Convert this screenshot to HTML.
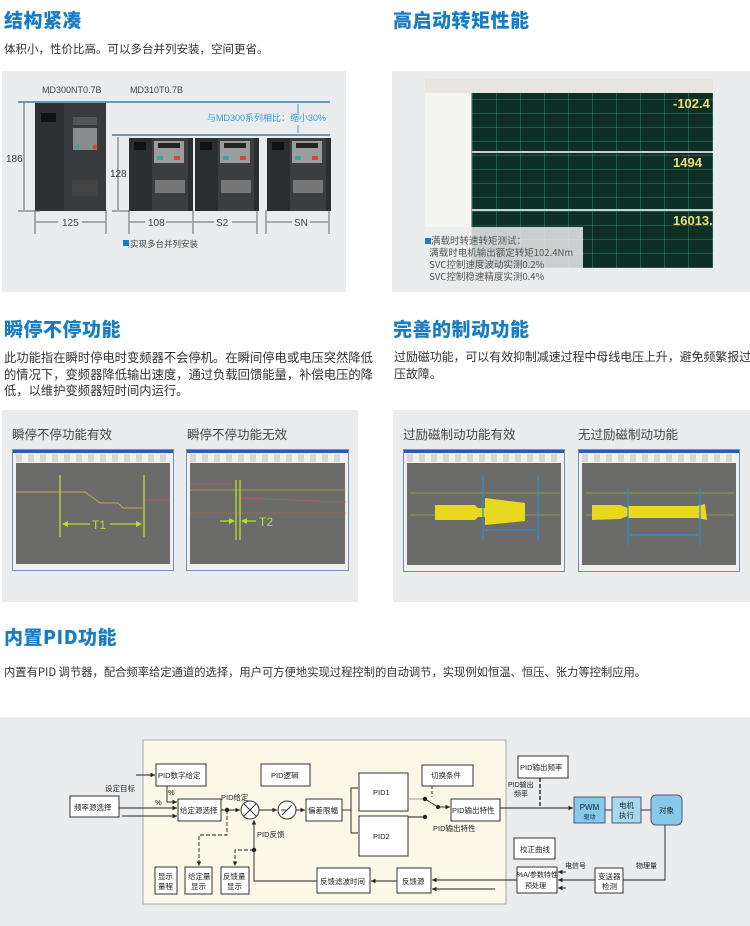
<!DOCTYPE html>
<html><head><meta charset="utf-8">
<style>
*{margin:0;padding:0;box-sizing:border-box}
body{width:750px;height:926px;background:#fff;position:relative;overflow:hidden;font-family:"Liberation Sans","Noto Sans CJK SC",sans-serif;color:#333}
.a{position:absolute}
.t{position:absolute;font-weight:900;font-size:19px;color:#1a7cc2;letter-spacing:0.5px;font-family:"Noto Sans CJK SC",sans-serif;line-height:22px}
.p{position:absolute;font-size:12px;color:#333;line-height:16.5px;font-family:"Noto Sans CJK SC",sans-serif;white-space:nowrap}
.panel{position:absolute;background:#ebeced}
.lbl{position:absolute;font-size:12.5px;color:#444;font-family:"Noto Sans CJK SC",sans-serif}
.win{position:absolute;background:#f0f0ee;border:1px solid #6f8fb8}
.win .tb{position:absolute;left:0;top:0;right:0;height:3px;background:#2a5fb0}
.win .g{position:absolute;left:3px;right:3px;top:13px;bottom:6px;background:#6b6c6a}
.win .s{position:absolute;left:3px;right:3px;top:4px;height:8px;background:repeating-linear-gradient(90deg,#bbb 0 6px,#f0f0ee 6px 12px);opacity:.5}
svg text{font-family:"Liberation Sans","Noto Sans CJK SC",sans-serif}
</style></head><body>

<!-- Section 1 -->
<div class="t" style="left:4px;top:9px">结构紧凑</div>
<div class="p" style="left:4px;top:41px;font-size:11.5px">体积小，性价比高。可以多台并列安装，空间更省。</div>
<div class="panel" style="left:2px;top:71px;width:344px;height:221px"></div>
<svg class="a" style="left:0;top:0" width="350" height="300">
 <text x="42" y="93" font-size="9" fill="#444">MD300NT0.7B</text>
 <text x="130" y="93" font-size="9" fill="#444">MD310T0.7B</text>
 <line x1="18" y1="102" x2="330" y2="102" stroke="#3d7f9e" stroke-width="1.5"/>
 <line x1="112" y1="135" x2="330" y2="135" stroke="#3d7f9e" stroke-width="1.5"/>
 <text x="207" y="121" font-size="9" fill="#3a9ad8">与MD300系列相比：缩小30%</text>
 <line x1="298" y1="104" x2="298" y2="114" stroke="#3a9ad8"/><line x1="298" y1="125" x2="298" y2="133" stroke="#3a9ad8"/>
 <rect x="35" y="103" width="71" height="108" fill="#2e3133"/>
 <rect x="64" y="103" width="42" height="108" fill="#383b3d"/>
 <rect x="41" y="113" width="15" height="9" fill="#111"/>
 <rect x="73" y="117" width="24" height="8" fill="#555"/>
 <rect x="73" y="128" width="24" height="22" fill="#8a8c8e"/>
 <circle cx="77" cy="147" r="2.5" fill="#3a9"/><circle cx="95" cy="147" r="2.5" fill="#d44"/>
 <rect x="72" y="180" width="26" height="16" fill="#444"/>
 <line x1="24" y1="103" x2="24" y2="210" stroke="#666"/>
 <text x="6" y="162" font-size="10" fill="#333">186</text>
 <g id="su">
  <rect x="129" y="138" width="64" height="73" fill="#2b2e30"/>
  <rect x="152" y="138" width="36" height="73" fill="#3b3e40"/>
  <rect x="134" y="142" width="12" height="8" fill="#111"/>
  <rect x="154" y="141" width="30" height="22" fill="#9a9c9e"/>
  <rect x="158" y="143" width="22" height="5" fill="#222"/>
  <rect x="157" y="156" width="6" height="4" fill="#3a9"/><rect x="174" y="156" width="6" height="4" fill="#d44"/>
  <rect x="155" y="180" width="30" height="13" fill="#777"/>
 </g>
 <use href="#su" x="66"/>
 <use href="#su" x="138"/>
 <line x1="118" y1="137" x2="118" y2="210" stroke="#666"/>
 <text x="110" y="177" font-size="10" fill="#333">128</text>
 <line x1="18" y1="211" x2="40" y2="211" stroke="#666"/><line x1="112" y1="211" x2="130" y2="211" stroke="#666"/>
 <g stroke="#666">
  <line x1="35" y1="210" x2="35" y2="234"/><line x1="106" y1="210" x2="106" y2="234"/>
  <line x1="129" y1="210" x2="129" y2="234"/><line x1="193" y1="210" x2="193" y2="234"/>
  <line x1="257" y1="210" x2="257" y2="234"/><line x1="266" y1="210" x2="266" y2="234"/><line x1="329" y1="210" x2="329" y2="234"/>
  <line x1="36" y1="222" x2="58" y2="222"/><line x1="82" y1="222" x2="105" y2="222"/>
  <line x1="130" y1="222" x2="145" y2="222"/><line x1="166" y1="222" x2="192" y2="222"/>
  <line x1="194" y1="222" x2="214" y2="222"/><line x1="232" y1="222" x2="256" y2="222"/>
  <line x1="267" y1="222" x2="292" y2="222"/><line x1="310" y1="222" x2="328" y2="222"/>
 </g>
 <text x="62" y="226" font-size="10" fill="#444">125</text>
 <text x="148" y="226" font-size="10" fill="#444">108</text>
 <text x="216" y="226" font-size="10" fill="#444">S2</text>
 <text x="294" y="226" font-size="10" fill="#444">SN</text>
 <rect x="123" y="240" width="6" height="6" fill="#1a7cc2"/>
 <text x="130" y="247" font-size="8.5" fill="#444">实现多台并列安装</text>
</svg>

<div class="t" style="left:393px;top:9px">高启动转矩性能</div>
<div class="panel" style="left:392px;top:71px;width:358px;height:221px"></div>
<div class="a" style="left:425px;top:79px;width:288px;height:14px;background:#e8e6dc"></div>
<div class="a" style="left:425px;top:93px;width:47px;height:175px;background:#f4f4f0;border-right:1px solid #999"></div>
<div class="a" style="left:472px;top:93px;width:241px;height:175px;background:#0e2f25;background-image:repeating-linear-gradient(90deg,rgba(60,170,150,.35) 0 1px,transparent 1px 24px),repeating-linear-gradient(0deg,rgba(60,170,150,.35) 0 1px,transparent 1px 14px)"></div>
<div class="a" style="left:472px;top:151px;width:241px;height:2px;background:#ccc"></div>
<div class="a" style="left:472px;top:209px;width:241px;height:2px;background:#ccc"></div>
<div class="a" style="left:673px;top:96px;font-size:13px;font-weight:bold;color:#e8e070">-102.4</div>
<div class="a" style="left:673px;top:155px;font-size:13px;font-weight:bold;color:#e8e070">1494</div>
<div class="a" style="left:673px;top:213px;font-size:13px;font-weight:bold;color:#e8e070">16013.</div>
<div class="a" style="left:425px;top:227px;width:158px;height:41px;background:rgba(235,236,237,.85)"></div>
<div class="a" style="left:425px;top:234px;font-size:9.5px;color:#555;line-height:12px;font-family:'Noto Sans CJK SC',sans-serif;white-space:nowrap"><span style="display:inline-block;width:6px;height:6px;background:#1a7cc2"></span>满载时转速转矩测试：<br>&nbsp;&nbsp;满载时电机输出额定转矩102.4Nm<br>&nbsp;&nbsp;SVC控制速度波动实测0.2%<br>&nbsp;&nbsp;SVC控制稳速精度实测0.4%</div>

<!-- Section 2 -->
<div class="t" style="left:4px;top:318px">瞬停不停功能</div>
<div class="p" style="left:4px;top:349px;font-size:12.3px">此功能指在瞬时停电时变频器不会停机。在瞬间停电或电压突然降低<br>的情况下，变频器降低输出速度，通过负载回馈能量，补偿电压的降<br>低，以维护变频器短时间内运行。</div>
<div class="panel" style="left:2px;top:410px;width:356px;height:192px"></div>
<div class="lbl" style="left:12px;top:424px">瞬停不停功能有效</div>
<div class="lbl" style="left:187px;top:424px">瞬停不停功能无效</div>
<div class="win" style="left:12px;top:449px;width:162px;height:122px"><div class="tb"></div><div class="s"></div><div class="g"></div></div>
<div class="win" style="left:186px;top:449px;width:163px;height:122px"><div class="tb"></div><div class="s"></div><div class="g"></div></div>
<svg class="a" style="left:0;top:440px" width="360" height="140">
 <polyline points="16,52 85,52 100,63 118,63 123,68 143,68" fill="none" stroke="#c9a24a" stroke-width="1"/>
 <line x1="143" y1="60" x2="170" y2="60" stroke="#c55" stroke-width="0.8"/>
 <line x1="60" y1="35" x2="60" y2="97" stroke="#b6dd33" stroke-width="1.3"/>
 <line x1="144" y1="35" x2="144" y2="97" stroke="#b6dd33" stroke-width="1.3"/>
 <line x1="63" y1="84" x2="90" y2="84" stroke="#b6dd33" stroke-width="1.3"/><line x1="110" y1="84" x2="141" y2="84" stroke="#b6dd33" stroke-width="1.3"/>
 <polygon points="62,84 68,81 68,87" fill="#b6dd33"/><polygon points="142,84 136,81 136,87" fill="#b6dd33"/>
 <text x="92" y="89" font-size="12" fill="#b6dd33">T1</text>
 <line x1="190" y1="44" x2="233" y2="44" stroke="#c55" stroke-width="0.8"/>
 <line x1="190" y1="50" x2="346" y2="50" stroke="#c9a24a" stroke-width="0.8"/>
 <line x1="240" y1="58" x2="346" y2="62" stroke="#c55" stroke-width="0.6"/>
 <line x1="190" y1="73" x2="346" y2="73" stroke="#b06a55" stroke-width="0.6"/>
 <line x1="236" y1="40" x2="236" y2="100" stroke="#b6dd33" stroke-width="1.3"/>
 <line x1="240" y1="40" x2="240" y2="100" stroke="#b6dd33" stroke-width="1.3"/>
 <line x1="220" y1="81" x2="234" y2="81" stroke="#b6dd33" stroke-width="1.3"/><polygon points="235,81 229,78 229,84" fill="#b6dd33"/>
 <line x1="242" y1="81" x2="256" y2="81" stroke="#b6dd33" stroke-width="1.3"/><polygon points="241,81 247,78 247,84" fill="#b6dd33"/>
 <text x="259" y="86" font-size="12" fill="#b6dd33">T2</text>
</svg>

<div class="t" style="left:393px;top:318px">完善的制动功能</div>
<div class="p" style="left:394px;top:349px;font-size:12px;letter-spacing:-0.1px">过励磁功能，可以有效抑制减速过程中母线电压上升，避免频繁报过<br>压故障。</div>
<div class="panel" style="left:393px;top:410px;width:357px;height:192px"></div>
<div class="lbl" style="left:403px;top:424px">过励磁制动功能有效</div>
<div class="lbl" style="left:578px;top:424px">无过励磁制动功能</div>
<div class="win" style="left:403px;top:449px;width:162px;height:123px"><div class="tb"></div><div class="s"></div><div class="g"></div></div>
<div class="win" style="left:578px;top:449px;width:162px;height:123px"><div class="tb"></div><div class="s"></div><div class="g"></div></div>
<svg class="a" style="left:375px;top:440px" width="375" height="140">
 <line x1="35" y1="53" x2="185" y2="53" stroke="#a9a040" stroke-width="0.7"/>
 <line x1="35" y1="75" x2="185" y2="75" stroke="#a9a040" stroke-width="0.7"/>
 <path d="M60,65 L100,65 L103,68 L110,68 L110,58 L150,63 L150,81 L110,85 L110,77 L103,77 L100,80 L60,80 Z" fill="#e8d820"/>
 <line x1="108" y1="35" x2="108" y2="100" stroke="#2a8fd0" stroke-width="1.2"/>
 <line x1="163" y1="35" x2="163" y2="100" stroke="#2a8fd0" stroke-width="1.2"/>
 <line x1="110" y1="90" x2="161" y2="90" stroke="#2a8fd0" stroke-width="1.5"/>
 <line x1="210" y1="53" x2="360" y2="53" stroke="#a9a040" stroke-width="0.7"/>
 <line x1="210" y1="75" x2="360" y2="75" stroke="#a9a040" stroke-width="0.7"/>
 <path d="M253,66 L322,66 L330,64 L332,80 L322,78 L253,78 Z M217,65 L245,65 L253,68 L253,76 L245,79 L217,80 Z" fill="#e8d820"/>
 <line x1="253" y1="48" x2="253" y2="105" stroke="#2a8fd0" stroke-width="1.2"/>
 <line x1="325" y1="48" x2="325" y2="105" stroke="#2a8fd0" stroke-width="1.2"/>
 <line x1="255" y1="95" x2="323" y2="95" stroke="#2a8fd0" stroke-width="1.5"/>
</svg>

<!-- PID -->
<div class="t" style="left:4px;top:626px">内置PID功能</div>
<div class="p" style="left:4px;top:664px;font-size:11.3px">内置有PID 调节器，配合频率给定通道的选择，用户可方便地实现过程控制的自动调节，实现例如恒温、恒压、张力等控制应用。</div>
<div class="panel" style="left:0;top:717px;width:750px;height:209px"></div>
<svg class="a" style="left:0;top:0" width="750" height="926" font-size="7.5">
 <defs><marker id="ar" markerWidth="6" markerHeight="6" refX="5" refY="3" orient="auto"><path d="M0,0.5 L5,3 L0,5.5Z" fill="#222"/></marker></defs>
 <rect x="143" y="740" width="363" height="164" fill="#fbf8e8" stroke="#aaa"/>
 <g fill="#fff" stroke="#333" stroke-width="1">
  <rect x="156" y="764" width="50" height="22"/>
  <rect x="261" y="764" width="49" height="22"/>
  <rect x="70" y="796" width="49" height="21"/>
  <rect x="178" y="799" width="43" height="22"/>
  <rect x="306" y="799" width="36" height="22"/>
  <rect x="359" y="773" width="49" height="38"/>
  <rect x="359" y="816" width="49" height="40"/>
  <rect x="422" y="765" width="51" height="21"/>
  <rect x="451" y="799" width="49" height="22"/>
  <rect x="518" y="756" width="50" height="22"/>
  <rect x="514" y="838" width="41" height="21"/>
  <rect x="517" y="867" width="40" height="26"/>
  <rect x="595" y="868" width="28" height="25"/>
  <rect x="397" y="868" width="34" height="25"/>
  <rect x="317" y="868" width="53" height="25"/>
  <rect x="155" y="867" width="22" height="27"/>
  <rect x="185" y="867" width="27" height="27"/>
  <rect x="221" y="867" width="28" height="27"/>
  <circle cx="250" cy="810" r="9"/><circle cx="287" cy="810" r="9"/>
 </g>
 <rect x="574" y="797" width="31" height="26" fill="#86c9ea" stroke="#557"/>
 <rect x="612" y="797" width="29" height="26" fill="#a8d8ee" stroke="#557"/>
 <rect x="651" y="795" width="31" height="30" rx="5" fill="#86c9ea" stroke="#557"/>
 <g stroke="#222" stroke-width="0.9" fill="none">
  <line x1="244" y1="804" x2="256" y2="816"/><line x1="256" y1="804" x2="244" y2="816"/>
  <line x1="282" y1="815" x2="292" y2="805"/><line x1="281" y1="810" x2="286" y2="810"/>
  <line x1="136" y1="775" x2="155" y2="775" marker-end="url(#ar)"/>
  <polyline points="167,786 167,802 177,802" marker-end="url(#ar)"/>
  <line x1="119" y1="808" x2="177" y2="808" marker-end="url(#ar)"/>
  <line x1="122" y1="816" x2="177" y2="816" marker-end="url(#ar)"/>
  <line x1="221" y1="810" x2="240" y2="810" marker-end="url(#ar)"/>
  <line x1="259" y1="810" x2="277" y2="810" marker-end="url(#ar)"/>
  <line x1="296" y1="810" x2="305" y2="810" marker-end="url(#ar)"/>
  <line x1="342" y1="810" x2="351" y2="810"/>
  <polyline points="358,788 351,788 351,833 358,833"/>
  <line x1="408" y1="799" x2="425" y2="799" stroke="#999"/>
  <line x1="408" y1="817" x2="425" y2="817"/>
  <line x1="425" y1="799" x2="438" y2="807"/>
  <line x1="438" y1="807" x2="450" y2="807" marker-end="url(#ar)"/>
  <line x1="432" y1="786" x2="432" y2="797" stroke-dasharray="3,2"/>
  <line x1="500" y1="808" x2="573" y2="808" marker-end="url(#ar)"/>
  <line x1="540" y1="778" x2="540" y2="808" stroke-dasharray="4,2" stroke-width="1.4"/>
  <line x1="605" y1="810" x2="612" y2="810"/><line x1="641" y1="810" x2="651" y2="810"/>
  <polyline points="665,825 665,880 623,880"/>
  <line x1="595" y1="880" x2="558" y2="880" marker-end="url(#ar)"/>
  <line x1="566" y1="872" x2="558" y2="872" marker-end="url(#ar)"/>
  <line x1="566" y1="888" x2="558" y2="888" marker-end="url(#ar)"/>
  <line x1="517" y1="880" x2="432" y2="880" marker-end="url(#ar)"/>
  <line x1="495" y1="889" x2="432" y2="889" marker-end="url(#ar)"/>
  <line x1="397" y1="881" x2="371" y2="881" marker-end="url(#ar)"/>
  <polyline points="317,881 254,881 254,820" marker-end="url(#ar)"/>
  <polyline points="227,810 227,835 199,835 199,866" stroke-dasharray="4,2" marker-end="url(#ar)"/>
  <polyline points="254,850 235,850 235,866" stroke-dasharray="4,2" marker-end="url(#ar)"/>
 </g>
 <circle cx="227" cy="810" r="2.2" fill="#222"/><circle cx="254" cy="850" r="2.2" fill="#222"/>
 <circle cx="425" cy="799" r="2.2" fill="#222"/><circle cx="425" cy="817" r="2.2" fill="#222"/><circle cx="438" cy="807" r="2" fill="#222"/>
 <g fill="#222">
  <text x="158" y="778">PID数字给定</text>
  <text x="271" y="778">PID逻辑</text>
  <text x="74" y="810">频率源选择</text>
  <text x="180" y="813">给定源选择</text>
  <text x="308" y="813">偏差限幅</text>
  <text x="373" y="795">PID1</text>
  <text x="373" y="839">PID2</text>
  <text x="431" y="778">切换条件</text>
  <text x="452" y="813">PID输出特性</text>
  <text x="520" y="770">PID输出频率</text>
  <text x="520" y="852">校正曲线</text>
  <text x="589.5" y="810" font-size="8" fill="#124" text-anchor="middle">PWM</text><text x="589.5" y="819" font-size="6" fill="#124" text-anchor="middle">驱动</text>
  <text x="619" y="808">电机</text><text x="619" y="818">执行</text>
  <text x="659" y="813">对象</text>
  <text x="517" y="877" font-size="7">%A/参数特性</text><text x="525" y="888" font-size="7">预处理</text>
  <text x="598" y="879">变送器</text><text x="602" y="889">检测</text>
  <text x="402" y="884">反馈源</text>
  <text x="320" y="884">反馈滤波时间</text>
  <text x="158" y="879">显示</text><text x="158" y="889">量程</text>
  <text x="188" y="879">给定量</text><text x="191" y="889">显示</text>
  <text x="223" y="879">反馈量</text><text x="227" y="889">显示</text>
  <text x="105" y="791">设定目标</text>
  <text x="168" y="795">%</text><text x="155" y="805">%</text>
  <text x="221" y="800">PID给定</text>
  <text x="257" y="837">PID反馈</text>
  <text x="433" y="831">PID输出特性</text>
  <text x="508" y="787" font-size="7">PID输出</text><text x="514" y="796" font-size="7">频率</text>
  <text x="565" y="868" font-size="7">电信号</text>
  <text x="636" y="868" font-size="7">物理量</text>
 </g>
</svg>
</body></html>
